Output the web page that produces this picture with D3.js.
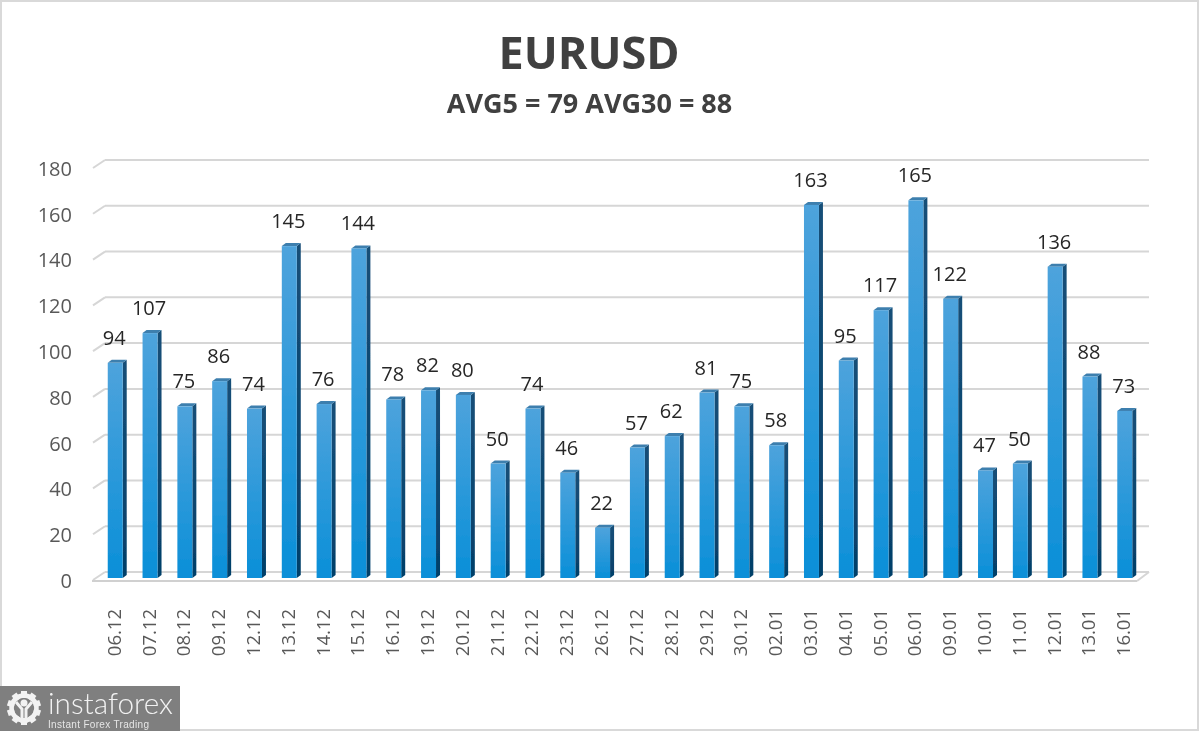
<!DOCTYPE html>
<html>
<head>
<meta charset="utf-8">
<script src="https://cdn.jsdelivr.net/npm/d3@7"></script>
<style>
  html, body { margin: 0; padding: 0; background: #fff; }
  svg { display: block; font-family: "Open Sans", sans-serif; }
</style>
</head>
<body>
<div id="chart"></div>
<script>
const dates = ['06.12','07.12','08.12','09.12','12.12','13.12','14.12','15.12','16.12','19.12',
               '20.12','21.12','22.12','23.12','26.12','27.12','28.12','29.12','30.12','02.01',
               '03.01','04.01','05.01','06.01','09.01','10.01','11.01','12.01','13.01','16.01'];
const values = [94,107,75,86,74,145,76,144,78,82,
                80,50,74,46,22,57,62,81,75,58,
                163,95,117,165,122,47,50,136,88,73];
const yTicks = [0,20,40,60,80,100,120,140,160,180];
const title = 'EURUSD';
const subtitle = 'AVG5 = 79 AVG30 = 88';

const W = 1200, H = 731;
const depthX = 12, depthY = 7;   // decalage du plan arriere (faux 3D)
const barDepthX = 4, barDepthY = 3;

const svg = d3.select('#chart').append('svg')
    .attr('width', W)
    .attr('height', H)
    .attr('viewBox', `0 0 ${W} ${H}`);

// Cadre gris clair
svg.append('rect')
    .attr('x', 1).attr('y', 1)
    .attr('width', W - 3).attr('height', H - 2)
    .attr('fill', '#fff')
    .attr('stroke', '#d9d9d9')
    .attr('stroke-width', 2);

const defs = svg.append('defs');
const front = defs.append('linearGradient').attr('id', 'barFront')
    .attr('x1', 0).attr('y1', 0).attr('x2', 0).attr('y2', 1);
front.append('stop').attr('offset', '0%').attr('stop-color', '#4ea3dc');
front.append('stop').attr('offset', '100%').attr('stop-color', '#0a8fd8');
const side = defs.append('linearGradient').attr('id', 'barSide')
    .attr('x1', 0).attr('y1', 0).attr('x2', 0).attr('y2', 1);
side.append('stop').attr('offset', '0%').attr('stop-color', '#174f78');
side.append('stop').attr('offset', '100%').attr('stop-color', '#043f69');
// Le modele est une image legerement floue
defs.append('filter').attr('id', 'soft')
    .attr('x', 0).attr('y', 0).attr('width', 1).attr('height', 1)
    .attr('filterUnits', 'userSpaceOnUse')
    .attr('width', W).attr('height', H)
    .append('feGaussianBlur').attr('stdDeviation', 0.45);

const root = svg.append('g').attr('filter', 'url(#soft)');

// Titres
root.append('text')
    .attr('x', 589).attr('y', 69)
    .attr('text-anchor', 'middle')
    .attr('font-size', 45).attr('font-weight', 700)
    .attr('fill', '#404040')
    .text(title);
root.append('text')
    .attr('x', 589.5).attr('y', 113)
    .attr('text-anchor', 'middle')
    .attr('font-size', 27).attr('font-weight', 700)
    .attr('fill', '#404040')
    .text(subtitle);

// Echelles
const x = d3.scaleBand().domain(dates).range([98, 1142]).paddingInner(0.57).paddingOuter(0.28);
const y = d3.scaleLinear().domain([0, 180]).range([578, 166]);

// Grille (plan arriere)
const grid = root.append('g');
grid.selectAll('line.h')
    .data(yTicks)
    .join('line')
    .attr('class', 'h')
    .attr('x1', 93 + depthX).attr('x2', 1149)
    .attr('y1', d => y(d) - depthY + 1).attr('y2', d => y(d) - depthY + 1)
    .attr('stroke', '#d6d6d6').attr('stroke-width', 2);
grid.selectAll('line.s')
    .data(yTicks)
    .join('line')
    .attr('class', 's')
    .attr('x1', 93).attr('x2', 93 + depthX)
    .attr('y1', d => y(d) + 2).attr('y2', d => y(d) - depthY + 1)
    .attr('stroke', '#d6d6d6').attr('stroke-width', 2);
// Plancher
grid.append('line')
    .attr('x1', 92).attr('x2', 1137)
    .attr('y1', y(0) + 3).attr('y2', y(0) + 3)
    .attr('stroke', '#d0d0d0').attr('stroke-width', 2);
grid.append('line')
    .attr('x1', 1137).attr('x2', 1149)
    .attr('y1', y(0) + 3).attr('y2', y(0) - depthY + 1)
    .attr('stroke', '#d6d6d6').attr('stroke-width', 2);

// Axes (textes seuls)
const yAxis = root.append('g')
    .attr('transform', 'translate(80,3)')
    .call(d3.axisLeft(y).tickValues(yTicks).tickSize(0).tickPadding(8));
yAxis.select('.domain').remove();
yAxis.selectAll('text')
    .attr('font-family', '"Open Sans", sans-serif')
    .attr('font-size', 20)
    .attr('fill', '#595959');

const xAxis = root.append('g')
    .attr('transform', 'translate(-1,600)')
    .call(d3.axisBottom(x).tickSize(0).tickPadding(0));
xAxis.select('.domain').remove();
xAxis.selectAll('text')
    .attr('font-family', '"Open Sans", sans-serif')
    .attr('font-size', 18.5)
    .attr('fill', '#595959')
    .attr('text-anchor', 'end')
    .attr('dy', '0.35em')
    .attr('transform', 'translate(0,9) rotate(-90)')
    .attr('x', 0).attr('y', 0);

// Barres
const bars = root.append('g').selectAll('g')
    .data(dates.map((d, i) => ({ date: d, value: values[i] })))
    .join('g');

bars.append('path')  // face laterale
    .attr('d', d => {
        const xr = x(d.date) + x.bandwidth();
        return `M${xr},${y(d.value)}L${xr + barDepthX},${y(d.value) - barDepthY}` +
               `L${xr + barDepthX},${y(0) - barDepthY}L${xr},${y(0)}Z`;
    })
    .attr('fill', 'url(#barSide)');

bars.append('path')  // face superieure
    .attr('d', d => {
        const xl = x(d.date), xr = xl + x.bandwidth();
        return `M${xl},${y(d.value)}L${xl + barDepthX},${y(d.value) - barDepthY}` +
               `L${xr + barDepthX},${y(d.value) - barDepthY}L${xr},${y(d.value)}Z`;
    })
    .attr('fill', '#3d7fae');

bars.append('rect')
    .attr('x', d => x(d.date))
    .attr('y', d => y(d.value))
    .attr('width', x.bandwidth())
    .attr('height', d => y(0) - y(d.value))
    .attr('fill', 'url(#barFront)');

bars.append('text')
    .attr('x', d => x(d.date) + x.bandwidth() / 2 - 1)
    .attr('y', d => y(d.value) - 18)
    .attr('text-anchor', 'middle')
    .attr('font-size', 20)
    .attr('fill', '#262626')
    .text(d => d.value);

// Logo
const logo = root.append('g');
logo.append('rect')
    .attr('x', 0).attr('y', 686)
    .attr('width', 180).attr('height', 45)
    .attr('fill', '#7f7f7f');
const gear = logo.append('g').attr('transform', 'translate(24,708)');
gear.selectAll('rect')
    .data(d3.range(0, 360, 36))
    .join('rect')
    .attr('x', -3).attr('y', -17)
    .attr('width', 6).attr('height', 7)
    .attr('fill', '#f2f2f2')
    .attr('transform', d => `rotate(${d})`);
gear.append('circle').attr('r', 12.5).attr('fill', 'none')
    .attr('stroke', '#f2f2f2').attr('stroke-width', 4.5);
gear.append('circle').attr('cy', -5).attr('r', 3.5).attr('fill', '#f2f2f2');
gear.append('path')
    .attr('d', 'M-8,-6L-2,1V15M8,-6L2,1V15')
    .attr('fill', 'none').attr('stroke', '#f2f2f2').attr('stroke-width', 3);
logo.append('text')
    .attr('x', 48).attr('y', 714)
    .attr('font-size', 30)
    .attr('font-family', 'Lato, sans-serif')
    .attr('font-weight', 300)
    .attr('textLength', 125)
    .attr('lengthAdjust', 'spacingAndGlyphs')
    .attr('fill', '#f2f2f2')
    .text('instaforex');
logo.append('text')
    .attr('x', 48).attr('y', 728)
    .attr('font-size', 10)
    .attr('font-family', '"Liberation Sans", sans-serif')
    .attr('textLength', 101)
    .attr('fill', '#e6e6e6')
    .text('Instant Forex Trading');
</script>
</body>
</html>
